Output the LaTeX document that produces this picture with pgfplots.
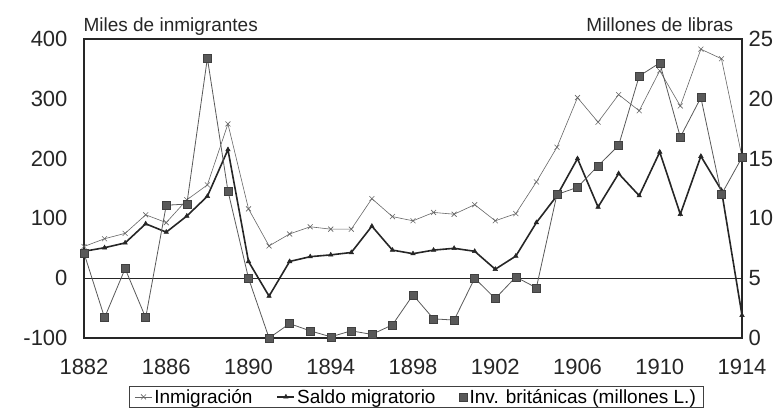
\documentclass[border=0pt]{standalone}
\usepackage{pgfplots}
\pgfplotsset{compat=1.18}
\usepackage{fontspec}
\setmainfont{Liberation Sans}

\pgfplotstableread{
year inm saldo inv
1882 53 45 7.1
1883 66 51 1.7
1884 75 59 5.8
1885 106 91 1.7
1886 93 77 11.1
1887 131 104 11.2
1888 156 137 23.4
1889 258 215 12.3
1890 116 28 5.0
1891 54 -30 0.0
1892 74 28 1.2
1893 86 36 0.6
1894 82 39 0.1
1895 82 43 0.6
1896 133 87 0.3
1897 103 47 1.1
1898 96 41 3.6
1899 110 47 1.6
1900 107 50 1.5
1901 123 45 5.0
1902 96 15 3.3
1903 108 37 5.1
1904 161 93 4.2
1905 219 138 12.0
1906 302 200 12.6
1907 261 119 14.4
1908 307 175 16.1
1909 280 138 21.9
1910 347 211 23.0
1911 288 107 16.8
1912 383 204 20.1
1913 367 147 12.0
1914 203 -62 15.1
}\datatable

\begin{document}
\begin{tikzpicture}
\useasboundingbox (-84pt,-78pt) rectangle (697pt,338pt);
\begin{axis}[
  at={(0,0)}, anchor=south west,
  scale only axis, width=658pt, height=299pt,
  xmin=1882, xmax=1914, ymin=-100, ymax=400,
  xtick={1882,1886,...,1914}, ytick={-100,0,...,400},
  ytick pos=left, xtick pos=bottom,
  major tick length=0pt,
  /pgf/number format/1000 sep={},
  /pgf/number format/assume math mode=true,
  ticklabel style={font=\fontsize{22}{24}\selectfont, text=black!85},
  xticklabel style={yshift=-18pt},
  yticklabel style={xshift=-13pt},
  axis line style={draw=black!85, line width=1.5pt},
  clip=false,
  legend columns=3,
  legend style={at={(0.505,-0.197)}, anchor=center, draw=black!75, line width=0.8pt,
    font=\fontsize{19}{21}\selectfont, inner ysep=1pt, inner xsep=5pt,
    /tikz/every even column/.append style={column sep=22pt}},
  legend cell align=left,
]
\addplot[black!85, line width=1pt, forget plot] coordinates {(1882,0) (1914,0)};
\addplot[gray!80!black, line width=0.6pt, mark=x, mark size=3.5pt, mark options={line width=0.6pt}] table[x=year, y=inm] {\datatable};
\addlegendentry{Inmigración}
\addplot[black!85, line width=1.6pt, mark=triangle*, mark size=2.6pt, mark options={line width=0.5pt}] table[x=year, y=saldo] {\datatable};
\addlegendentry{Saldo migratorio}
\addlegendimage{only marks, mark=square*, mark size=4pt, mark options={fill=black!65, draw=black!75}}
\addlegendentry{Inv. británicas (millones L.)}
\node[anchor=base west, font=\fontsize{19}{21}\selectfont, text=black!85] at (rel axis cs:-0.006,1.025) {Miles de inmigrantes};
\node[anchor=base east, font=\fontsize{19}{21}\selectfont, text=black!85] at (rel axis cs:0.992,1.025) {Millones de libras};
\end{axis}
\begin{axis}[
  at={(0,0)}, anchor=south west,
  scale only axis, width=658pt, height=299pt,
  xmin=1882, xmax=1914, ymin=0, ymax=25,
  axis x line=none, axis y line*=right,
  ytick={0,5,...,25},
  major tick length=0pt,
  /pgf/number format/assume math mode=true,
  ticklabel style={font=\fontsize{22}{24}\selectfont, text=black!85},
  yticklabel style={xshift=3pt},
  axis line style={draw=black!85, line width=1.5pt},
  clip=false,
]
\addplot[black!65, line width=0.8pt, mark=square*, mark size=4pt, mark options={fill=black!65, draw=black!75, line width=0.5pt}] table[x=year, y=inv] {\datatable};
\end{axis}
\end{tikzpicture}
\end{document}
